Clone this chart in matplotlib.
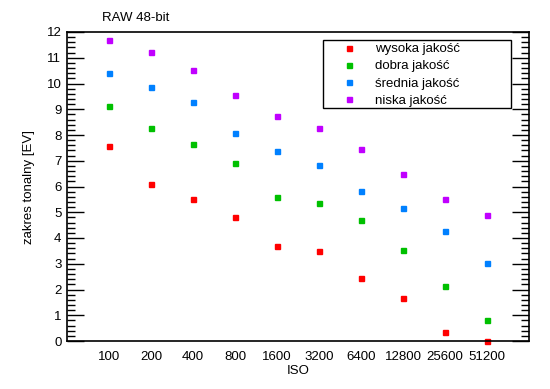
import matplotlib
matplotlib.use("Agg")
import matplotlib.pyplot as plt
from matplotlib.ticker import MultipleLocator
from matplotlib.patches import Rectangle

iso_labels = ["100", "200", "400", "800", "1600", "3200", "6400", "12800", "25600", "51200"]
wysoka = [7.56, 6.08, 5.50, 4.80, 3.68, 3.48, 2.43, 1.66, 0.34, 0.0]
dobra = [9.11, 8.26, 7.64, 6.90, 5.58, 5.35, 4.69, 3.52, 2.12, 0.80]
srednia = [10.40, 9.85, 9.27, 8.07, 7.37, 6.82, 5.81, 5.15, 4.26, 3.02]
niska = [11.68, 11.21, 10.51, 9.54, 8.73, 8.26, 7.44, 6.47, 5.50, 4.88]

series_names = ["wysoka jakość", "dobra jakość", "średnia jakość", "niska jakość"]
colors = ["#ff0000", "#00c000", "#0080ff", "#c000ff"]

plt.rcParams['font.family'] = ['Liberation Sans', 'DejaVu Sans']

W, H = 550, 389
fig = plt.figure(figsize=(W/100, H/100), dpi=100)
ax = fig.add_axes([67/W, 1 - 341/H, (529-67)/W, (341-32)/H])

x = list(range(len(iso_labels)))
for vals, name, c in zip([wysoka, dobra, srednia, niska], series_names, colors):
    ax.plot(x, vals, linestyle='none', marker='s', markersize=3.6,
            markerfacecolor=c, markeredgecolor=c, label=name, clip_on=False)

ax.set_xlim(-1, 10)
ax.set_ylim(0, 12)
ax.set_xticks(x)
ax.set_xticklabels(iso_labels)
ax.yaxis.set_major_locator(MultipleLocator(1))
ax.yaxis.set_minor_locator(MultipleLocator(0.2))
ax.tick_params(axis='x', length=0, labelsize=9.5, pad=7)
ax.tick_params(axis='y', which='major', direction='in', length=12, width=1,
               right=True, labelsize=9.5, pad=4)
ax.tick_params(axis='y', which='minor', direction='in', length=6, width=1, right=True)
for s in ax.spines.values():
    s.set_linewidth(1.2)

ax.set_xlabel("ISO", fontsize=9.5, labelpad=2)
ax.set_ylabel("zakres tonalny [EV]", fontsize=9.5, labelpad=8)
fig.text(102/W, 1 - 18/H, "RAW 48-bit", fontsize=9.5, ha='left', va='center')

# legend frame drawn as a rectangle
ax.add_patch(Rectangle((323/W, 1 - 108/H), (511-323)/W, (108-40)/H,
                       transform=fig.transFigure, facecolor='white',
                       edgecolor='black', linewidth=1.0, zorder=5, clip_on=False))
leg = ax.legend(loc='upper left', bbox_to_anchor=(341/W, 1 - 43/H),
                bbox_transform=fig.transFigure,
                frameon=False, fontsize=9.5,
                handlelength=1.2, handletextpad=1.4, borderpad=0, labelspacing=0.38,
                borderaxespad=0)
leg.set_zorder(6)

fig.savefig("out.png", dpi=100)
